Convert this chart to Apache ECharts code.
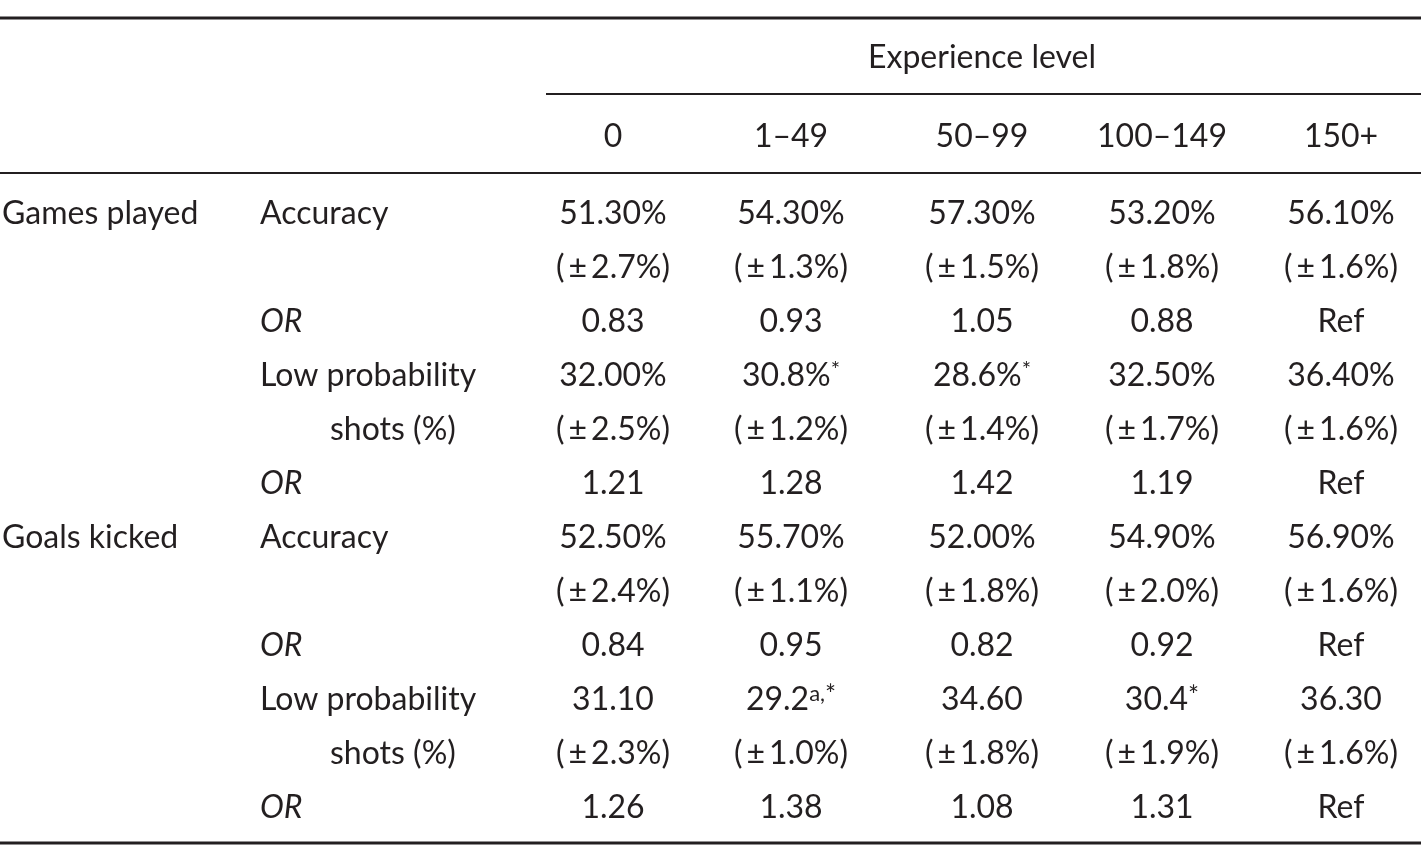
<!DOCTYPE html>
<html><head><meta charset="utf-8">
<script src="https://cdn.jsdelivr.net/npm/echarts@6/dist/echarts.min.js"></script>
<style>html,body{margin:0;background:#fff}#c{width:1421px;height:845px}</style>
</head><body><div id="c"></div>
<script>
const columns = ["0", "1–49", "50–99", "100–149", "150+"];
const groupLabels = ["Games played", "", "", "", "", "", "Goals kicked", "", "", "", "", ""];
const measureLabels = ["Accuracy", "", "OR", "Low probability", "shots (%)", "OR", "Accuracy", "", "OR", "Low probability", "shots (%)", "OR"];
const gpAccuracy = ["51.30%", "54.30%", "57.30%", "53.20%", "56.10%"];
const gpAccuracyCI = ["(±2.7%)", "(±1.3%)", "(±1.5%)", "(±1.8%)", "(±1.6%)"];
const gpAccuracyOR = ["0.83", "0.93", "1.05", "0.88", "Ref"];
const gpLowProb = ["32.00%", "30.8%{s|*}", "28.6%{s|*}", "32.50%", "36.40%"];
const gpLowProbCI = ["(±2.5%)", "(±1.2%)", "(±1.4%)", "(±1.7%)", "(±1.6%)"];
const gpLowProbOR = ["1.21", "1.28", "1.42", "1.19", "Ref"];
const gkAccuracy = ["52.50%", "55.70%", "52.00%", "54.90%", "56.90%"];
const gkAccuracyCI = ["(±2.4%)", "(±1.1%)", "(±1.8%)", "(±2.0%)", "(±1.6%)"];
const gkAccuracyOR = ["0.84", "0.95", "0.82", "0.92", "Ref"];
const gkLowProb = ["31.10", "29.2{s|a,}{t|*}", "34.60", "30.4{t|*}", "36.30"];
const gkLowProbCI = ["(±2.3%)", "(±1.0%)", "(±1.8%)", "(±1.9%)", "(±1.6%)"];
const gkLowProbOR = ["1.26", "1.38", "1.08", "1.31", "Ref"];
const rows = [gpAccuracy, gpAccuracyCI, gpAccuracyOR, gpLowProb, gpLowProbCI, gpLowProbOR,
              gkAccuracy, gkAccuracyCI, gkAccuracyOR, gkLowProb, gkLowProbCI, gkLowProbOR];

const FONT = 'Lato, "Open Sans", sans-serif';
const colX = [613, 791, 982, 1162, 1341];
const fs = 32, color = '#231f20';
const els = [];
function fmt(t) { return t.replace('(±', '(\u2009±\u2009'); }
function txt(x, y, t, align, italic) {
  els.push({type:'text', x, y, style:{text:fmt(t), font: (italic?'italic ':'') + fs + 'px ' + FONT,
    fill: color, align: align||'center', verticalAlign:'middle',
    rich:{s:{fontSize:22, fontFamily:FONT, fill:color, verticalAlign:'top', padding:[0,0,12,0]},
          t:{fontSize:26, fontFamily:FONT, fill:color, verticalAlign:'top', padding:[0,0,6,0]}}}});
}
function line(x1, y, x2, w) {
  els.push({type:'line', shape:{x1, y1:y, x2, y2:y}, style:{stroke:'#231f20', lineWidth:w}});
}
line(0, 18, 1421, 3);
line(546, 94, 1421, 2);
line(0, 173, 1421, 2);
line(0, 843, 1421, 3);
txt(982, 58, 'Experience level');
columns.forEach((c, i) => txt(colX[i], 137, c));
rows.forEach((r, ri) => {
  const y = 214 + ri * 54;
  if (groupLabels[ri]) txt(2, y, groupLabels[ri], 'left');
  const m = measureLabels[ri];
  if (m) txt(m === 'shots (%)' ? 330 : 260, y, m, 'left', m === 'OR');
  r.forEach((v, ci) => txt(colX[ci], y, v));
});
const chart = echarts.init(document.getElementById('c'));
chart.setOption({animation:false, graphic: els});
</script></body></html>
